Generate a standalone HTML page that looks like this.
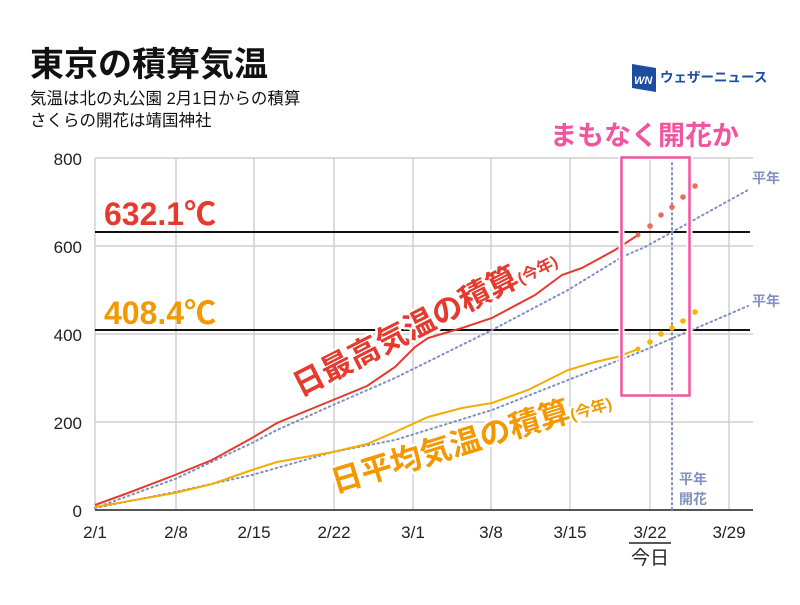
<!DOCTYPE html>
<html><head><meta charset="utf-8"><style>
body{margin:0;background:#fff;}
svg text{font-family:"Liberation Sans","Noto Sans CJK JP",sans-serif;}
</style></head><body>
<svg width="800" height="600" viewBox="0 0 800 600" xmlns="http://www.w3.org/2000/svg">
<rect width="800" height="600" fill="#fff"/>
<text x="30" y="76" font-size="34" font-weight="bold" fill="#111">東京の積算気温</text>
<text x="30" y="104" font-size="16.5" fill="#111">気温は北の丸公園 2月1日からの積算</text>
<text x="30" y="126" font-size="16.5" fill="#111">さくらの開花は靖国神社</text>
<polygon points="632,64 656,68 656,92 632,88" fill="#1c4da1"/>
<text x="634" y="84" font-size="11" font-weight="bold" fill="#fff" font-style="italic">WN</text>
<text x="660" y="82" font-size="13.5" font-weight="bold" fill="#1c4da1">ウェザーニュース</text>
<g stroke="#d0d0d0" stroke-width="1.5">
<line x1="95" y1="158" x2="753" y2="158"/><line x1="95" y1="246" x2="753" y2="246"/>
<line x1="95" y1="334" x2="753" y2="334"/><line x1="95" y1="422" x2="753" y2="422"/>
<line x1="95" y1="158" x2="95" y2="510"/><line x1="176" y1="158" x2="176" y2="510"/>
<line x1="254" y1="158" x2="254" y2="510"/><line x1="334" y1="158" x2="334" y2="510"/>
<line x1="413" y1="158" x2="413" y2="510"/><line x1="491" y1="158" x2="491" y2="510"/>
<line x1="570" y1="158" x2="570" y2="510"/><line x1="650" y1="158" x2="650" y2="510"/>
<line x1="729" y1="158" x2="729" y2="510"/>
</g>
<line x1="95" y1="510" x2="753" y2="510" stroke="#555" stroke-width="2"/>
<g font-size="17" fill="#222" text-anchor="end">
<text x="82" y="165">800</text><text x="82" y="253">600</text><text x="82" y="341">400</text><text x="82" y="429">200</text><text x="82" y="517">0</text>
</g>
<g font-size="17" fill="#222" text-anchor="middle">
<text x="95" y="538">2/1</text><text x="176" y="538">2/8</text><text x="254" y="538">2/15</text><text x="334" y="538">2/22</text><text x="413" y="538">3/1</text><text x="491" y="538">3/8</text><text x="570" y="538">3/15</text><text x="650" y="538">3/22</text><text x="729" y="538">3/29</text>
<text x="650" y="564" font-size="19">今日</text>
</g>
<line x1="629" y1="543" x2="671" y2="543" stroke="#222" stroke-width="1.5"/>
<line x1="95" y1="232" x2="750" y2="232" stroke="#111" stroke-width="2"/>
<line x1="95" y1="330" x2="750" y2="330" stroke="#111" stroke-width="2"/>
<text x="104" y="225" font-size="32" font-weight="bold" fill="#e53a2e">632.1℃</text>
<text x="104" y="324" font-size="32" font-weight="bold" fill="#f39800">408.4℃</text>
<g stroke="#7f8fc4" stroke-width="2" stroke-dasharray="1.5 3.5" fill="none" stroke-linecap="round">
<polyline points="95,508 175,479 252,443 277,430 333,405 395,378 492,330 568,290 622,257 645,247 748,190"/>
<polyline points="95,508 175,492 252,475 333,452 395,440 492,410 568,380 622,359 645,350 748,306"/>
<line x1="672" y1="158" x2="672" y2="512"/>
</g>
<text x="752" y="183" font-size="14" font-weight="bold" fill="#8090c0">平年</text>
<text x="752" y="306" font-size="14" font-weight="bold" fill="#8090c0">平年</text>
<text x="679" y="484" font-size="14" font-weight="bold" fill="#8090c0">平年</text>
<text x="679" y="504" font-size="14" font-weight="bold" fill="#8090c0">開花</text>
<polyline fill="none" stroke="#e53a2e" stroke-width="2" points="95,505 128,493 175,475 212,460 252,438 277,423 333,400 367,386 395,367 415,347 428,338 462,328 492,318 535,295 562,275 582,268 615,250 638,235"/>
<polyline fill="none" stroke="#f5ac00" stroke-width="2" points="95,507 175,493 212,484 252,470 277,462 333,452 367,444 395,432 428,417 462,408 492,403 528,390 568,370 595,362 617,357 638,349"/>
<g fill="#ea6d5e"><circle cx="638" cy="235" r="2.5"/><circle cx="650" cy="226" r="2.8"/><circle cx="661" cy="215" r="2.8"/><circle cx="672" cy="207" r="2.8"/><circle cx="683" cy="197" r="2.8"/><circle cx="695" cy="186" r="2.8"/></g>
<g fill="#f5b400"><circle cx="638" cy="349" r="2.5"/><circle cx="650" cy="342" r="2.8"/><circle cx="661" cy="334" r="2.8"/><circle cx="672" cy="328" r="2.8"/><circle cx="683" cy="321" r="2.8"/><circle cx="695" cy="312" r="2.8"/></g>
<rect x="621.5" y="157.5" width="68" height="238" fill="none" stroke="#fff" stroke-width="6"/>
<rect x="621.5" y="157.5" width="68" height="238" fill="none" stroke="#f0559f" stroke-width="2.5"/>
<text x="550" y="145" font-size="27" font-weight="bold" fill="#f0559f">まもなく開花か</text>
<g font-weight="bold" stroke="#fff" stroke-width="5" paint-order="stroke" stroke-linejoin="round">
<text transform="translate(300,397) rotate(-27)" font-size="31" fill="#e53a2e">日最高気温の積算<tspan font-size="16">(今年)</tspan></text>
<text transform="translate(335,493) rotate(-17)" font-size="31" fill="#f39800">日平均気温の積算<tspan font-size="16">(今年)</tspan></text>
</g>
</svg>
</body></html>
